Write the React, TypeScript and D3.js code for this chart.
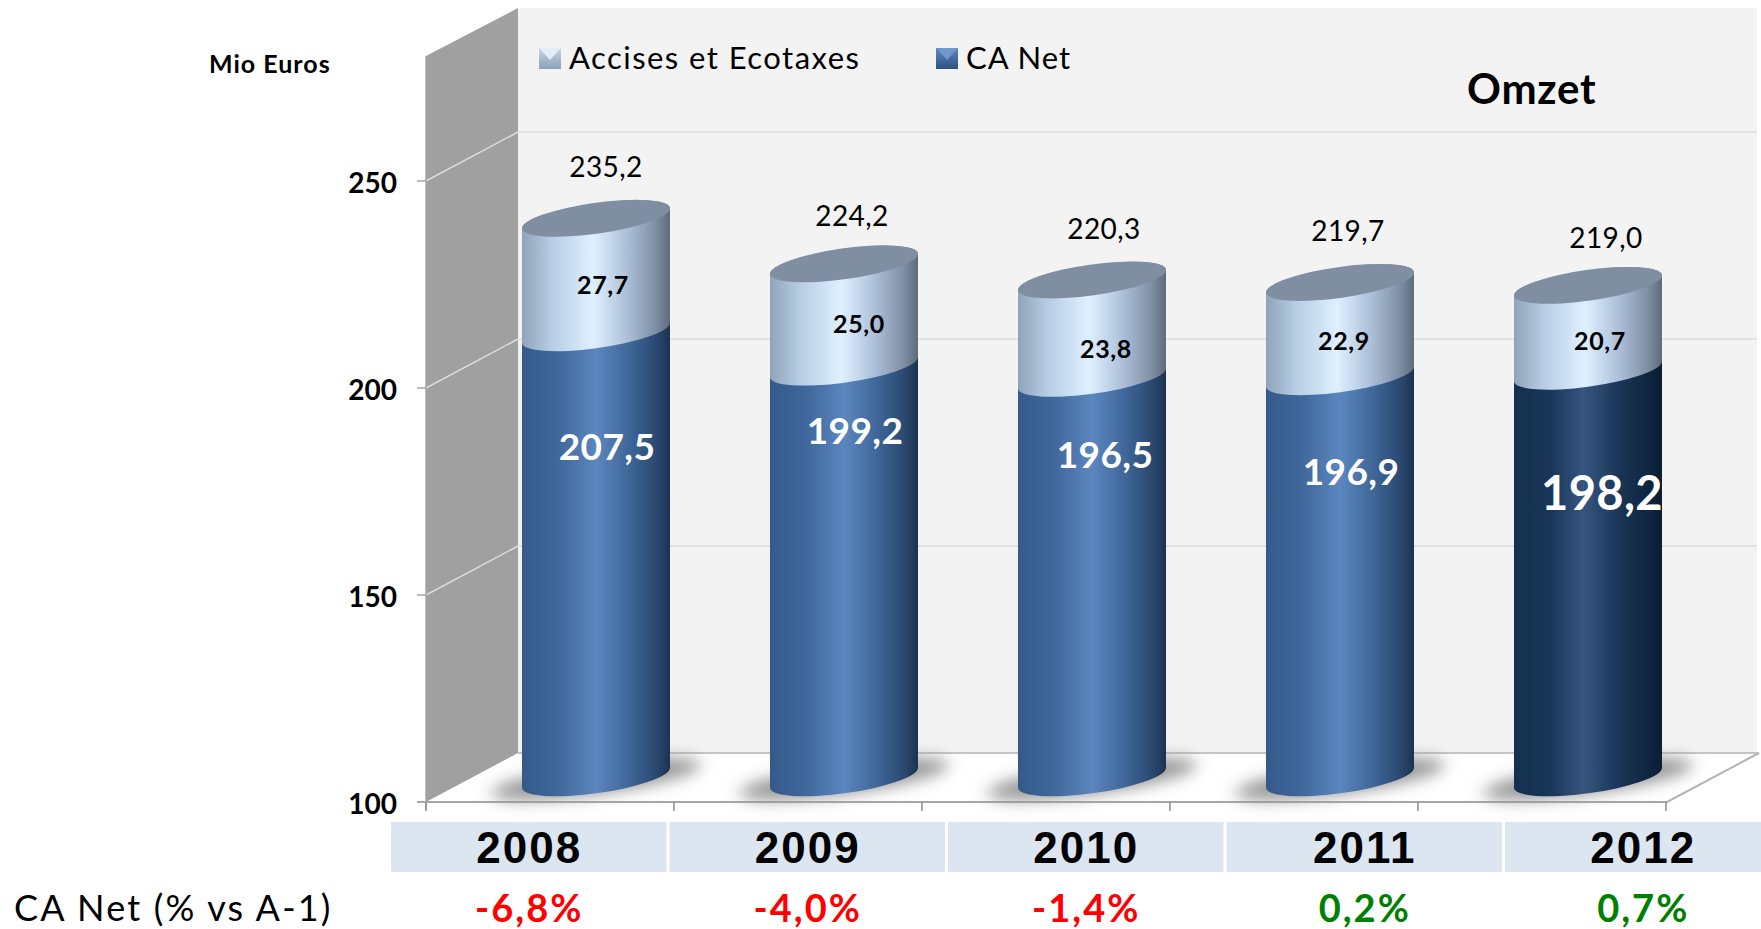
import React from "react";
import * as d3 from "d3";

const years = ["2008", "2009", "2010", "2011", "2012"];
const caNet = [207.5, 199.2, 196.5, 196.9, 198.2];
const accises = [27.7, 25.0, 23.8, 22.9, 20.7];
const totals = [235.2, 224.2, 220.3, 219.7, 219.0];
const growth = ["-6,8%", "-4,0%", "-1,4%", "0,2%", "0,7%"];
const yTicks = [100, 150, 200, 250];
const fmt = (v: number) => v.toFixed(1).replace(".", ",");

// layout
const W = 1761, H = 929;
const DEPTH = { x: 92, y: -49 };
const FLOOR_Y = 802;
const y = d3.scaleLinear().domain([100, 250]).range([FLOOR_Y, 181]);
const x = d3.scaleBand().domain(years).range([426, 1666]);
const barDepth = { x: 46, y: -24 };
const ELL = { a: 74.7, b: 15.4, rot: -8, dx: 74, dy: 10 };
const wallRight = 1757;
const wallTop = 8;
const cells = d3.scaleBand().domain(years).range([391, 1783.5]);

// hand placements of the labels relative to the bar centre / scale
const totalNudge = [{ x: 10, y: -52 }, { x: 8, y: -49 }, { x: 12, y: -52 }, { x: 8, y: -52 }, { x: 18, y: -48 }];
const accNudge = [{ x: 7, y: 8 }, { x: 15, y: 7 }, { x: 14, y: 19 }, { x: 4, y: 10 }, { x: 12, y: 12 }];
const caNudge = [{ x: 11, y: 113 }, { x: 11, y: 62 }, { x: 13, y: 75 }, { x: 11, y: 94 }, { x: 14, y: 121 }];
const caSize = [37, 37, 37, 37, 47];

const LATO = "Lato, sans-serif";
const cx = (yr: string) => (x(yr) as number) + x.bandwidth() / 2 + barDepth.x;
const cy = (v: number) => y(v) + barDepth.y;

function segment(c: number, from: number, to: number) {
  const { a, b, rot, dx, dy } = ELL;
  const yb = cy(from), yt = cy(to);
  return `M${c - dx},${yt + dy} L${c - dx},${yb + dy} A${a},${b} ${rot} 0 0 ${c + dx},${yb - dy} L${c + dx},${yt - dy} A${a},${b} ${rot} 0 0 ${c - dx},${yt + dy} Z`;
}

function Grad({ id, stops }: { id: string; stops: [number, string][] }) {
  return (
    <linearGradient id={id} x1="0" x2="1" y1="0" y2="0">
      {stops.map(([o, c]) => <stop key={o} offset={o} stopColor={c} />)}
    </linearGradient>
  );
}

export default function App() {
  return (
    <svg width={W} height={H} viewBox={`0 0 ${W} ${H}`} style={{ position: "absolute", left: 0, top: 0, display: "block", background: "#fff" }}>
      <defs>
        <Grad id="blue" stops={[[0, "#345a8a"], [0.25, "#40689c"], [0.5, "#5c86bf"], [0.72, "#3f6799"], [0.9, "#2b4a72"], [1, "#1b3350"]]} />
        <Grad id="navy" stops={[[0, "#14304f"], [0.25, "#193659"], [0.47, "#36557f"], [0.72, "#193455"], [1, "#0a1e34"]]} />
        <Grad id="light" stops={[[0, "#8fa4ba"], [0.2, "#b7cde4"], [0.48, "#dff0ff"], [0.72, "#aabdd6"], [0.9, "#8090a5"], [1, "#5e6b7b"]]} />
        <linearGradient id="swA" x1="0" x2="0" y1="0" y2="1"><stop offset="0" stopColor="#c5d6e8" /><stop offset="1" stopColor="#8ba0b8" /></linearGradient>
        <linearGradient id="swB" x1="0" x2="0" y1="0" y2="1"><stop offset="0" stopColor="#5c86bf" /><stop offset="1" stopColor="#2f5380" /></linearGradient>
        <filter id="blur" x="-30%" y="-100%" width="160%" height="300%"><feGaussianBlur stdDeviation="8" /></filter>
      </defs>

      {/* walls */}
      <rect x={426 + DEPTH.x} y={wallTop} width={wallRight - 426 - DEPTH.x} height={FLOOR_Y + DEPTH.y - wallTop} fill="#f3f3f3" />
      <polygon points={`426,${56} ${426 + DEPTH.x},${wallTop} ${426 + DEPTH.x},${FLOOR_Y + DEPTH.y} 426,${FLOOR_Y}`} fill="#a0a0a0" />
      {yTicks.filter(t => t > 100).map(t => (
        <g key={t}>
          <line x1={426} x2={426 + DEPTH.x} y1={y(t)} y2={y(t) + DEPTH.y} stroke="#dcdcdc" strokeWidth={1.5} />
          <line x1={426 + DEPTH.x} x2={wallRight} y1={y(t) + DEPTH.y} y2={y(t) + DEPTH.y} stroke="#dcdcdc" strokeWidth={1.5} />
          <line x1={417} x2={426} y1={y(t)} y2={y(t)} stroke="#a6a6a6" strokeWidth={1.5} />
        </g>
      ))}
      {/* floor */}
      <polyline points={`${426 + DEPTH.x},${FLOOR_Y + DEPTH.y} 1759,${FLOOR_Y + DEPTH.y}`} stroke="#c4c4c4" strokeWidth={2} fill="none" />
      <polyline points={`1667,${FLOOR_Y} 1759,${FLOOR_Y + DEPTH.y}`} stroke="#b4b4b4" strokeWidth={2} fill="none" />
      <line x1={417} x2={1667} y1={FLOOR_Y} y2={FLOOR_Y} stroke="#a6a6a6" strokeWidth={2} />
      <line x1={426} x2={426} y1={56} y2={810} stroke="#a6a6a6" strokeWidth={1.5} />
      {[...years.map(v => x(v) as number), 1666].map((t, i) => (
        <line key={i} x1={t} x2={t} y1={FLOOR_Y} y2={811} stroke="#8c8c8c" strokeWidth={1.5} />
      ))}

      {/* shadows */}
      {years.map(yr => (
        <ellipse key={yr} cx={cx(yr)} cy={cy(100) + 1} rx={106} ry={15} transform={`rotate(-8 ${cx(yr)} ${cy(100)})`} fill="#959595" filter="url(#blur)" />
      ))}

      {/* cylinders */}
      {years.map((yr, i) => {
        const c = cx(yr);
        return (
          <g key={yr}>
            <path d={segment(c, 100, caNet[i])} fill={i === 4 ? "url(#navy)" : "url(#blue)"} />
            <path d={segment(c, caNet[i], totals[i])} fill="url(#light)" />
            <ellipse cx={c} cy={cy(totals[i])} rx={ELL.a} ry={ELL.b} transform={`rotate(${ELL.rot} ${c} ${cy(totals[i])})`} fill="#7f8ea1" />
          </g>
        );
      })}

      {/* labels on bars */}
      {years.map((yr, i) => {
        const c = cx(yr);
        return (
          <g key={yr} fontFamily={LATO} textAnchor="middle" dominantBaseline="central">
            <text x={c + totalNudge[i].x} y={cy(totals[i]) + totalNudge[i].y} fontSize={28} letterSpacing={0.4} fill="#000">{fmt(totals[i])}</text>
            <text x={c + accNudge[i].x} y={cy((caNet[i] + totals[i]) / 2) + accNudge[i].y} fontSize={25} letterSpacing={0.6} fontWeight={700} fill="#000">{fmt(accises[i])}</text>
            <text x={c + caNudge[i].x} y={cy(caNet[i]) + caNudge[i].y} fontSize={caSize[i]} letterSpacing={0.4} fontWeight={700} fill="#fff">{fmt(caNet[i])}</text>
          </g>
        );
      })}

      {/* y axis */}
      {yTicks.map(t => (
        <text key={t} x={397} y={y(t) + 1} textAnchor="end" dominantBaseline="central" fontFamily={LATO} fontWeight={700} fontSize={28} fill="#000">{t}</text>
      ))}
      <text x={209} y={63} dominantBaseline="central" fontFamily={LATO} fontWeight={700} fontSize={25} letterSpacing={1} fill="#000">Mio Euros</text>

      {/* legend */}
      <rect x={539} y={48} width={22} height={21} fill="url(#swA)" />
      <polygon points="539,48 561,48 550,60" fill="#e3eef8" />
      <text x={569} y={57} dominantBaseline="central" fontFamily={LATO} fontSize={31} letterSpacing={1.45} fill="#000">Accises et Ecotaxes</text>
      <rect x={936} y={48} width={22} height={21} fill="url(#swB)" />
      <polygon points="936,48 958,48 947,60" fill="#6f97cc" />
      <text x={966} y={57} dominantBaseline="central" fontFamily={LATO} fontSize={31} letterSpacing={1} fill="#000">CA Net</text>
      <text x={1467} y={88} dominantBaseline="central" fontFamily={LATO} fontWeight={700} fontSize={42} letterSpacing={0.8} fill="#000">Omzet</text>

      {/* table */}
      {years.map((yr, i) => {
        const l = cells(yr) as number;
        const mid = l + cells.bandwidth() / 2 - 1;
        return (
          <g key={yr}>
            <rect x={l} y={822} width={cells.bandwidth() - 3} height={50} fill="#dce6f1" />
            <text x={mid} y={847} textAnchor="middle" dominantBaseline="central" fontFamily="'Liberation Sans', Arial, sans-serif" fontWeight={700} fontSize={44} letterSpacing={2} fill="#000">{yr}</text>
            <text x={mid} y={907} textAnchor="middle" dominantBaseline="central" fontFamily={LATO} fontWeight={700} fontSize={38} letterSpacing={2} fill={growth[i].startsWith("-") ? "#ff0000" : "#008000"}>{growth[i]}</text>
          </g>
        );
      })}
      <text x={14} y={907} dominantBaseline="central" fontFamily={LATO} fontSize={36} letterSpacing={2.2} fill="#000">CA Net (% vs A-1)</text>
    </svg>
  );
}
